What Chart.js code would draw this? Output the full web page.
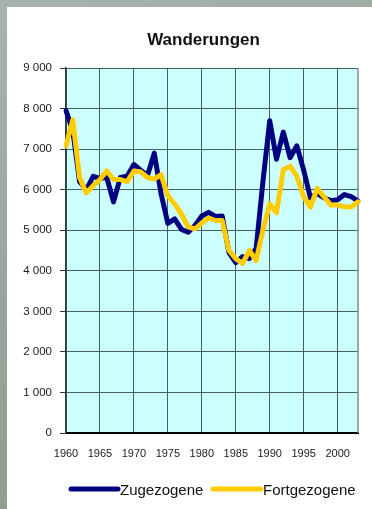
<!DOCTYPE html>
<html>
<head>
<meta charset="utf-8">
<title>Wanderungen</title>
<script src="https://cdn.jsdelivr.net/npm/chart.js@4.4.1/dist/chart.umd.min.js"></script>
<style>
  html, body { margin: 0; padding: 0; }
  body {
    width: 372px; height: 509px; overflow: hidden; position: relative;
    background: linear-gradient(160deg, #a9b3ae 0%, #9aa59c 45%, #8e998a 100%);
  }
  #panel {
    position: absolute; left: 7px; top: 7px; width: 365px; height: 502px;
    background: #ffffff;
  }
  #chart { display: block; }
</style>
</head>
<body>
<div id="panel"><canvas id="chart" width="365" height="502"></canvas></div>
<script>
// Jahre 1960 bis 2003
const years = [
  1960, 1961, 1962, 1963, 1964, 1965, 1966, 1967, 1968, 1969,
  1970, 1971, 1972, 1973, 1974, 1975, 1976, 1977, 1978, 1979,
  1980, 1981, 1982, 1983, 1984, 1985, 1986, 1987, 1988, 1989,
  1990, 1991, 1992, 1993, 1994, 1995, 1996, 1997, 1998, 1999,
  2000, 2001, 2002, 2003
];

// Zugezogene Personen je Jahr
const zugezogene = [
  7950, 7450, 6200, 6000, 6330, 6280, 6300, 5700, 6300, 6330,
  6620, 6480, 6350, 6900, 5900, 5170, 5280, 5020, 4950, 5120,
  5350, 5440, 5340, 5350, 4450, 4200, 4350, 4300, 4550, 6200,
  7700, 6750, 7420, 6790, 7080, 6480, 5800, 5900, 5800, 5730,
  5750, 5880, 5830, 5720
];

// Fortgezogene Personen je Jahr
const fortgezogene = [
  7080, 7720, 6300, 5920, 6100, 6250, 6460, 6250, 6250, 6200,
  6460, 6440, 6300, 6260, 6370, 5850, 5650, 5400, 5080, 5030,
  5180, 5300, 5240, 5240, 4500, 4300, 4180, 4500, 4250, 5000,
  5650, 5430, 6500, 6580, 6330, 5820, 5570, 6030, 5820, 5620,
  5620, 5580, 5570, 5700
];

// Beschriftung der Werteachse
const yTicks = [0, 1000, 2000, 3000, 4000, 5000, 6000, 7000, 8000, 9000];

const chartTitle = 'Wanderungen';
const seriesNames = ['Zugezogene', 'Fortgezogene'];
const seriesColors = ['#000080', '#ffcc00'];

const FONT = '"Liberation Sans", Arial, sans-serif';

function formatThousands(v) {
  return String(v).replace(/\B(?=(\d{3})+(?!\d))/g, ' ');
}

// Hintergrund der Zeichenfläche, Rahmen, Titel und Legende
const decor = {
  id: 'decor',
  beforeDraw(chart) {
    const { ctx, chartArea: a } = chart;
    ctx.save();
    ctx.fillStyle = '#ccffff';
    ctx.fillRect(a.left, a.top, a.right - a.left, a.bottom - a.top);
    ctx.restore();
  },
  beforeDatasetsDraw(chart) {
    const { ctx, chartArea: a } = chart;
    ctx.save();
    ctx.strokeStyle = '#7d8f8f';
    ctx.lineWidth = 1.5;
    ctx.beginPath();
    ctx.moveTo(a.right, a.top);
    ctx.lineTo(a.right, a.bottom);
    ctx.stroke();
    ctx.restore();
  },
  afterDraw(chart) {
    const { ctx } = chart;
    ctx.save();
    // Titel
    ctx.fillStyle = '#111111';
    ctx.font = 'bold 17px ' + FONT;
    ctx.textAlign = 'center';
    ctx.textBaseline = 'alphabetic';
    ctx.fillText(chartTitle, 196.5, 38);

    // Legende
    const items = [
      { x0: 64, x1: 111, tx: 113 },
      { x0: 206, x1: 254, tx: 256 }
    ];
    ctx.font = '15px ' + FONT;
    ctx.textAlign = 'left';
    items.forEach((it, i) => {
      ctx.strokeStyle = seriesColors[i];
      ctx.lineWidth = 5;
      ctx.lineCap = 'round';
      ctx.beginPath();
      ctx.moveTo(it.x0, 482);
      ctx.lineTo(it.x1, 482);
      ctx.stroke();
      ctx.fillStyle = '#111111';
      ctx.fillText(seriesNames[i], it.tx, 488);
    });
    ctx.restore();
  }
};

new Chart(document.getElementById('chart'), {
  type: 'line',
  data: {
    labels: years,
    datasets: [
      {
        label: seriesNames[0],
        data: zugezogene,
        borderColor: seriesColors[0],
        borderWidth: 5,
        pointRadius: 0,
        tension: 0,
        borderJoinStyle: 'round',
        borderCapStyle: 'round',
        order: 1
      },
      {
        label: seriesNames[1],
        data: fortgezogene,
        borderColor: seriesColors[1],
        borderWidth: 5,
        pointRadius: 0,
        tension: 0,
        borderJoinStyle: 'round',
        borderCapStyle: 'round',
        order: 0
      }
    ]
  },
  options: {
    responsive: false,
    animation: false,
    devicePixelRatio: 1,
    layout: { padding: { top: 61, right: 13, bottom: 46, left: 0 } },
    plugins: {
      legend: { display: false },
      title: { display: false },
      tooltip: { enabled: false }
    },
    scales: {
      x: {
        type: 'category',
        offset: false,
        grid: {
          offset: false,
          drawTicks: false,
          lineWidth: 1,
          color: (c) => (c.index % 5 === 0 ? '#46605f' : 'rgba(0,0,0,0)')
        },
        border: { display: true, color: '#000000', width: 2 },
        ticks: {
          autoSkip: false,
          maxRotation: 0,
          minRotation: 0,
          padding: 14,
          color: '#1a1a1a',
          font: { family: FONT, size: 11 },
          callback: function (value, index) {
            const y = years[index];
            return y % 5 === 0 ? String(y) : '';
          }
        },
        afterFit: (s) => { s.height = 30; }
      },
      y: {
        min: yTicks[0],
        max: yTicks[yTicks.length - 1],
        afterBuildTicks: (s) => { s.ticks = yTicks.map(v => ({ value: v })); },
        grid: {
          color: '#46605f',
          lineWidth: 1,
          drawTicks: true,
          tickLength: 6,
          tickColor: '#333333'
        },
        border: { display: true, color: '#2a3a3a', width: 1.5 },
        ticks: {
          padding: 8,
          color: '#1a1a1a',
          font: { family: FONT, size: 11.5 },
          callback: (v) => formatThousands(v)
        },
        afterFit: (s) => { s.width = 59; }
      }
    }
  },
  plugins: [decor]
});
</script>
</body>
</html>
